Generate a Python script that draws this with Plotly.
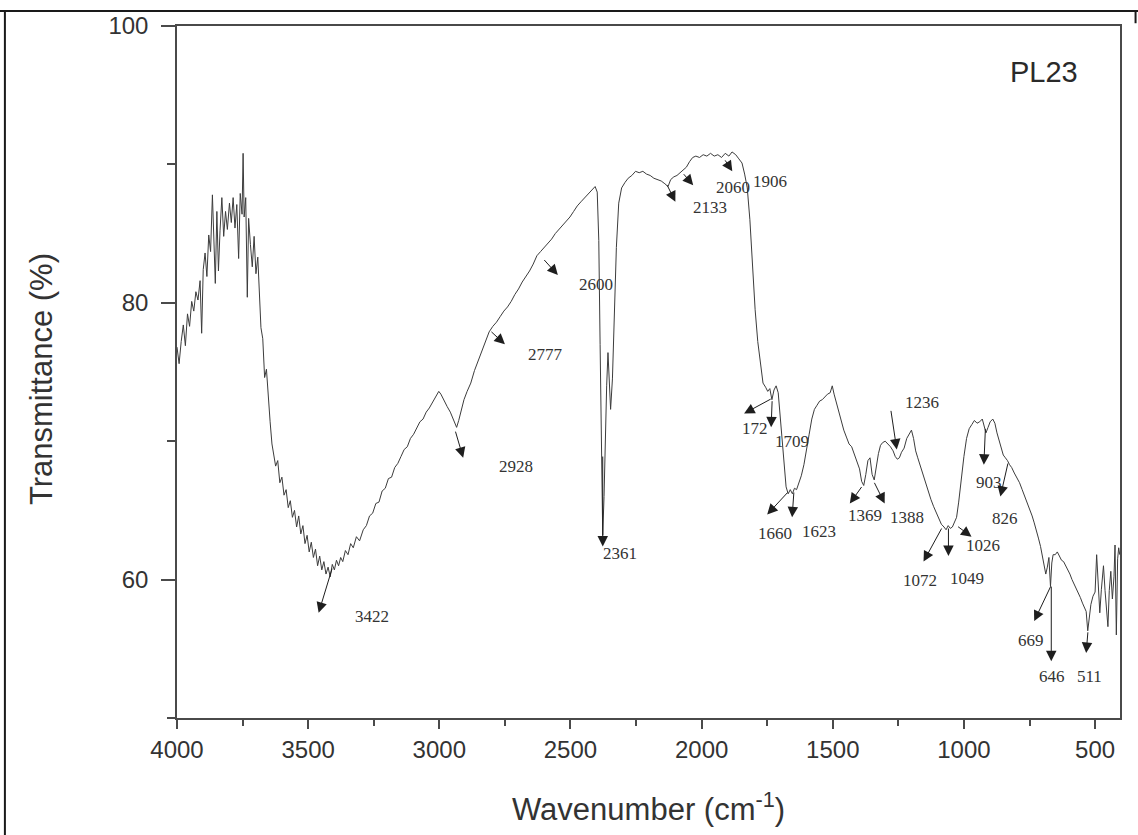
import plotly.graph_objects as go

# ---------------- data ----------------
wavenumber = [
    4000, 3992, 3984, 3976, 3968, 3960, 3952, 3944, 3936, 3928, 3920, 3912, 3906, 3900, 3893, 3886,
    3879, 3872, 3865, 3860, 3854, 3848, 3842, 3836, 3829, 3822, 3815, 3808, 3800, 3793, 3786, 3779,
    3772, 3765, 3759, 3752, 3748, 3744, 3738, 3732, 3727, 3720, 3713, 3706, 3699, 3692, 3686, 3680,
    3673, 3666, 3659, 3652, 3645, 3638, 3631, 3624, 3616, 3608, 3600, 3592, 3584, 3576, 3568, 3560,
    3552, 3544, 3536, 3528, 3520, 3512, 3504, 3496, 3488, 3480, 3472, 3464, 3456, 3448, 3440, 3432,
    3424, 3416, 3408, 3400, 3392, 3384, 3376, 3368, 3358, 3348, 3338, 3328, 3316, 3304, 3290, 3278,
    3266, 3254, 3242, 3230, 3218, 3206, 3194, 3182, 3170, 3158, 3146, 3134, 3122, 3110, 3098, 3086,
    3074, 3062, 3050, 3038, 3026, 3014, 3002, 2994, 2982, 2970, 2958, 2946, 2934, 2926, 2916, 2906,
    2894, 2880, 2866, 2852, 2838, 2824, 2810, 2796, 2782, 2768, 2754, 2740, 2726, 2712, 2698, 2684,
    2670, 2656, 2642, 2628, 2614, 2600, 2586, 2572, 2558, 2544, 2530, 2516, 2502, 2488, 2474, 2460,
    2446, 2432, 2418, 2406, 2398, 2392, 2387, 2382, 2377, 2372, 2367, 2362, 2357, 2352, 2347, 2340,
    2333, 2325, 2316, 2305, 2292, 2280, 2266, 2252, 2238, 2224, 2210, 2196, 2182, 2168, 2154, 2140,
    2128, 2118, 2106, 2094, 2082, 2070, 2058, 2046, 2034, 2022, 2008, 1994, 1980, 1966, 1952, 1938,
    1924, 1910, 1896, 1884, 1870, 1858, 1846, 1836, 1826, 1816, 1806, 1796, 1786, 1776, 1766, 1756,
    1748, 1740, 1732, 1724, 1716, 1708, 1700, 1692, 1685, 1678, 1670, 1662, 1654, 1646, 1638, 1630,
    1620, 1610, 1600, 1590, 1580, 1570, 1560, 1550, 1540, 1530, 1520, 1510, 1502, 1495, 1488, 1478,
    1468, 1458, 1448, 1438, 1428, 1418, 1408, 1398, 1390, 1382, 1374, 1366, 1358, 1350, 1342, 1334,
    1326, 1318, 1310, 1300, 1290, 1280, 1270, 1262, 1254, 1246, 1238, 1228, 1218, 1208, 1200, 1192,
    1184, 1176, 1166, 1156, 1146, 1136, 1126, 1116, 1106, 1096, 1086, 1076, 1068, 1060, 1052, 1044,
    1036, 1028, 1020, 1010, 1000, 990, 980, 970, 960, 950, 940, 930, 922, 916, 908, 900,
    890, 882, 874, 866, 858, 850, 842, 834, 826, 818, 808, 798, 788, 778, 768, 758,
    748, 740, 732, 724, 716, 708, 700, 694, 688, 682, 676, 670, 665, 660, 652, 644,
    636, 628, 620, 612, 604, 596, 588, 580, 572, 564, 556, 548, 540, 534, 528, 522,
    516, 508, 500, 494, 488, 482, 476, 468, 462, 456, 451, 446, 440, 434, 428, 424,
    419, 414, 410, 406,
]

transmittance = [
    76.8, 75.6, 77.2, 78.4, 76.9, 79.2, 78.3, 80.1, 79.4, 80.8, 80.2, 81.6, 77.8, 82.4, 83.6, 81.9,
    84.9, 83.7, 87.8, 85.1, 81.4, 86.6, 82.3, 85.2, 87.6, 84.8, 86.6, 85.3, 87.2, 85.8, 87.6, 85.4,
    87.1, 83.2, 87.9, 86.4, 90.8, 86.2, 87.6, 80.4, 86.1, 84.2, 82.6, 84.8, 82.1, 83.3, 80.6, 78.2,
    77.4, 74.6, 75.2, 73.1, 71.4, 69.8, 69.1, 68.2, 68.6, 67.0, 67.4, 66.1, 66.5, 65.2, 65.7, 64.5,
    65.0, 63.8, 64.6, 63.3, 63.9, 62.6, 63.2, 62.0, 62.7, 61.6, 62.2, 61.0, 61.7, 60.7, 61.3, 60.4,
    60.9, 60.2, 61.1, 60.7, 61.4, 61.0, 61.6, 61.3, 62.1, 61.8, 62.6, 62.3, 63.1, 62.8, 63.6, 63.9,
    64.6, 64.8, 65.5, 65.6, 66.4, 66.6, 67.3, 67.4, 68.1, 68.4, 68.9, 69.4, 69.6, 70.2, 70.5, 70.9,
    71.4, 71.6, 72.1, 72.4, 72.8, 73.2, 73.6, 73.4, 72.9, 72.5, 72.1, 71.6, 71.0, 71.5, 72.3, 73.0,
    73.6, 74.2, 75.1, 75.8, 76.4, 77.2, 77.9, 78.3, 78.6, 79.0, 79.4, 79.7, 80.1, 80.6, 81.0, 81.5,
    81.9, 82.3, 82.8, 83.4, 83.7, 84.0, 84.3, 84.6, 85.0, 85.3, 85.6, 85.9, 86.2, 86.6, 87.0, 87.3,
    87.6, 87.9, 88.2, 88.4, 88.0, 84.5, 77.0, 69.0, 63.2, 66.0, 70.5, 74.0, 76.4, 74.0, 72.3, 74.5,
    79.0, 84.0, 87.2, 88.3, 88.7, 89.0, 89.2, 89.5, 89.4, 89.5, 89.3, 89.2, 89.0, 88.9, 88.8, 88.6,
    88.4, 88.9, 89.1, 89.2, 89.4, 89.6, 89.8, 90.2, 90.5, 90.6, 90.5, 90.7, 90.6, 90.8, 90.6, 90.7,
    90.5, 90.8, 90.6, 90.9, 90.7, 90.4, 90.1, 89.3, 88.3, 86.0, 82.5, 79.5, 77.2, 75.5, 74.2, 73.9,
    73.6, 73.8, 73.0, 73.7, 74.0, 73.5, 71.8, 70.0, 68.3, 66.7, 66.2, 66.5, 66.2, 66.6, 66.5, 66.9,
    67.5, 68.3, 69.3, 70.5, 71.6, 72.3, 72.6, 72.9, 73.0, 73.2, 73.4, 73.5, 74.0, 73.4, 72.9, 72.2,
    71.4, 70.8, 70.3, 69.8, 69.6, 69.1, 68.6, 68.0, 67.1, 66.8, 67.6, 68.6, 68.8, 67.6, 67.2, 68.3,
    69.1, 69.7, 69.9, 70.0, 69.8, 69.6, 69.3, 68.9, 68.7, 68.8, 69.2, 69.5, 70.2, 70.6, 70.8, 70.2,
    69.3, 68.8, 68.2, 67.5, 67.0, 66.4, 65.8, 65.3, 64.9, 64.4, 64.0, 63.8, 63.6, 63.9, 63.7, 63.8,
    64.1, 64.5, 65.6, 67.3, 68.9, 70.2, 70.9, 71.2, 71.5, 71.3, 71.4, 71.6, 71.1, 70.6, 71.0, 71.4,
    71.6, 71.3, 70.6, 70.0, 69.4, 69.0, 68.8, 68.6, 68.3, 68.1, 67.7, 67.4, 67.0, 66.5, 66.0, 65.6,
    65.1, 64.6, 64.1, 63.6, 63.0, 62.4, 61.6, 60.9, 60.4, 60.9, 61.6, 59.5, 61.2, 61.8, 61.8, 62.0,
    61.7, 61.4, 61.3, 61.0, 60.8, 60.4, 60.0, 59.7, 59.3, 59.0, 58.7, 58.3, 58.0, 57.7, 56.3, 57.4,
    58.2, 58.8, 59.1, 61.8, 59.6, 57.6, 59.3, 61.0, 59.2, 57.4, 56.6, 59.2, 60.6, 58.6, 60.2, 62.5,
    56.0, 61.5, 62.3, 61.8,
]

x_tick_values = [4000, 3500, 3000, 2500, 2000, 1500, 1000, 500]
x_tick_labels = ["4000", "3500", "3000", "2500", "2000", "1500", "1000", "500"]
y_tick_values = [60, 80, 100]
y_tick_labels = ["60", "80", "100"]

sample_name = "PL23"

# peak labels: text, text position, arrow head, arrow tail (wavenumber, %T)
peak_labels = ["3422", "2928", "2777", "2600", "2361", "2133", "2060", "1906", "172",
               "1709", "1660", "1623", "1369", "1388", "1236", "1072", "1049", "1026",
               "903", "826", "669", "646", "511"]
label_pos = [(3255, 57.3), (2708, 68.2), (2594, 76.3), (2404, 81.3), (2313, 61.9),
             (1967, 86.9), (1880, 88.3), (1739, 88.8), (1795, 70.9), (1655, 70.0),
             (1722, 63.3), (1553, 63.5), (1378, 64.6), (1218, 64.5), (1158, 72.8),
             (1169, 59.9), (987, 60.1), (926, 62.5), (904, 67.0), (843, 64.4),
             (743, 55.6), (664, 53.0), (523, 53.0)]
arrow_head = [(3460, 57.6), (2909, 68.8), (2750, 77.0), (2548, 82.0), (2377, 62.4),
              (2100, 87.3), (2032, 88.5), (1883, 89.5), (1838, 72.0), (1735, 71.0),
              (1750, 64.7), (1655, 64.5), (1435, 65.5), (1302, 65.5), (1256, 69.4),
              (1154, 61.3), (1059, 61.7), (971, 63.1), (924, 68.3), (861, 66.0),
              (732, 57.0), (667, 54.1), (534, 54.7)]
arrow_tail = [(3407, 60.9), (2940, 70.8), (2807, 78.0), (2605, 83.2), (2377, 69.0),
              (2134, 88.6), (2073, 89.4), (1914, 90.4), (1731, 73.1), (1731, 73.0),
              (1667, 66.4), (1648, 66.4), (1386, 66.8), (1344, 67.1), (1279, 72.3),
              (1082, 63.8), (1059, 63.8), (1028, 63.9), (918, 71.0), (831, 68.5),
              (667, 59.6), (667, 59.6), (527, 56.3)]

# ---------------- figure ----------------
AXIS_COLOR = "#4a4a4a"
TEXT_COLOR = "#333333"
SANS = "Liberation Sans, Arial, sans-serif"
SERIF = "Liberation Serif, Times New Roman, serif"

fig = go.Figure()
fig.add_trace(go.Scatter(
    x=wavenumber, y=transmittance, mode="lines",
    line=dict(color="#3c3c3c", width=1),
    showlegend=False, hoverinfo="skip",
))

annotations = []
for lab, (tx, ty) in zip(peak_labels, label_pos):
    annotations.append(dict(
        x=tx, y=ty, xref="x", yref="y", text=lab, showarrow=False,
        font=dict(family=SERIF, size=17, color=TEXT_COLOR),
        xanchor="center", yanchor="middle",
    ))
for (hx, hy), (tx, ty) in zip(arrow_head, arrow_tail):
    annotations.append(dict(
        x=hx, y=hy, ax=tx, ay=ty, xref="x", yref="y", axref="x", ayref="y",
        text="", showarrow=True, arrowhead=2, arrowsize=2.1, arrowwidth=1,
        arrowcolor="#1e1e1e",
    ))

annotations.append(dict(
    x=694, y=96.7, xref="x", yref="y", text=sample_name, showarrow=False,
    font=dict(family=SANS, size=29, color="#2a2a2a"),
    xanchor="center", yanchor="middle",
))
annotations.append(dict(
    x=-0.143, y=0.49, xref="paper", yref="paper", text="Transmittance (%)",
    showarrow=False, textangle=-90,
    font=dict(family=SANS, size=31, color=TEXT_COLOR),
    xanchor="center", yanchor="middle",
))
annotations.append(dict(
    x=0.5, y=-0.129, xref="paper", yref="paper",
    text="Wavenumber (cm<sup>-1</sup>)", showarrow=False,
    font=dict(family=SANS, size=31, color=TEXT_COLOR),
    xanchor="center", yanchor="middle",
))

fig.update_layout(
    width=1138, height=835,
    margin=dict(l=177, r=18, t=21, b=117),
    paper_bgcolor="white", plot_bgcolor="white",
    annotations=annotations,
    shapes=[
        dict(type="line", xref="paper", yref="paper", x0=-0.19, x1=1.02,
             y0=1.0215, y1=1.0215, line=dict(color="#1a1a1a", width=2)),
        dict(type="line", xref="paper", yref="paper", x0=-0.1825, x1=-0.1825,
             y0=1.0215, y1=-0.17, line=dict(color="#1a1a1a", width=2)),
        dict(type="line", xref="paper", yref="paper", x0=1.0165, x1=1.0165,
             y0=1.0215, y1=1.004, line=dict(color="#1a1a1a", width=2)),
    ],
)

fig.update_xaxes(
    range=[4000, 405], tickvals=x_tick_values, ticktext=x_tick_labels,
    showgrid=False, zeroline=False,
    showline=True, linecolor=AXIS_COLOR, linewidth=1.5, mirror=True,
    ticks="outside", ticklen=9, tickwidth=1.5, tickcolor=AXIS_COLOR,
    tickfont=dict(family=SANS, size=24, color=TEXT_COLOR),
    minor=dict(ticks="outside", ticklen=6, tickwidth=1.5, tickcolor=AXIS_COLOR,
               tick0=0, dtick=250, showgrid=False),
)
fig.update_yaxes(
    range=[50, 100], tickvals=y_tick_values, ticktext=y_tick_labels,
    showgrid=False, zeroline=False,
    showline=True, linecolor=AXIS_COLOR, linewidth=1.5, mirror=True,
    ticks="outside", ticklen=14, tickwidth=1.5, tickcolor=AXIS_COLOR,
    ticklabelstandoff=8,
    tickfont=dict(family=SANS, size=24, color=TEXT_COLOR),
    minor=dict(ticks="outside", ticklen=8, tickwidth=1.5, tickcolor=AXIS_COLOR,
               tick0=0, dtick=10, showgrid=False),
)

fig.write_html("out.html")
